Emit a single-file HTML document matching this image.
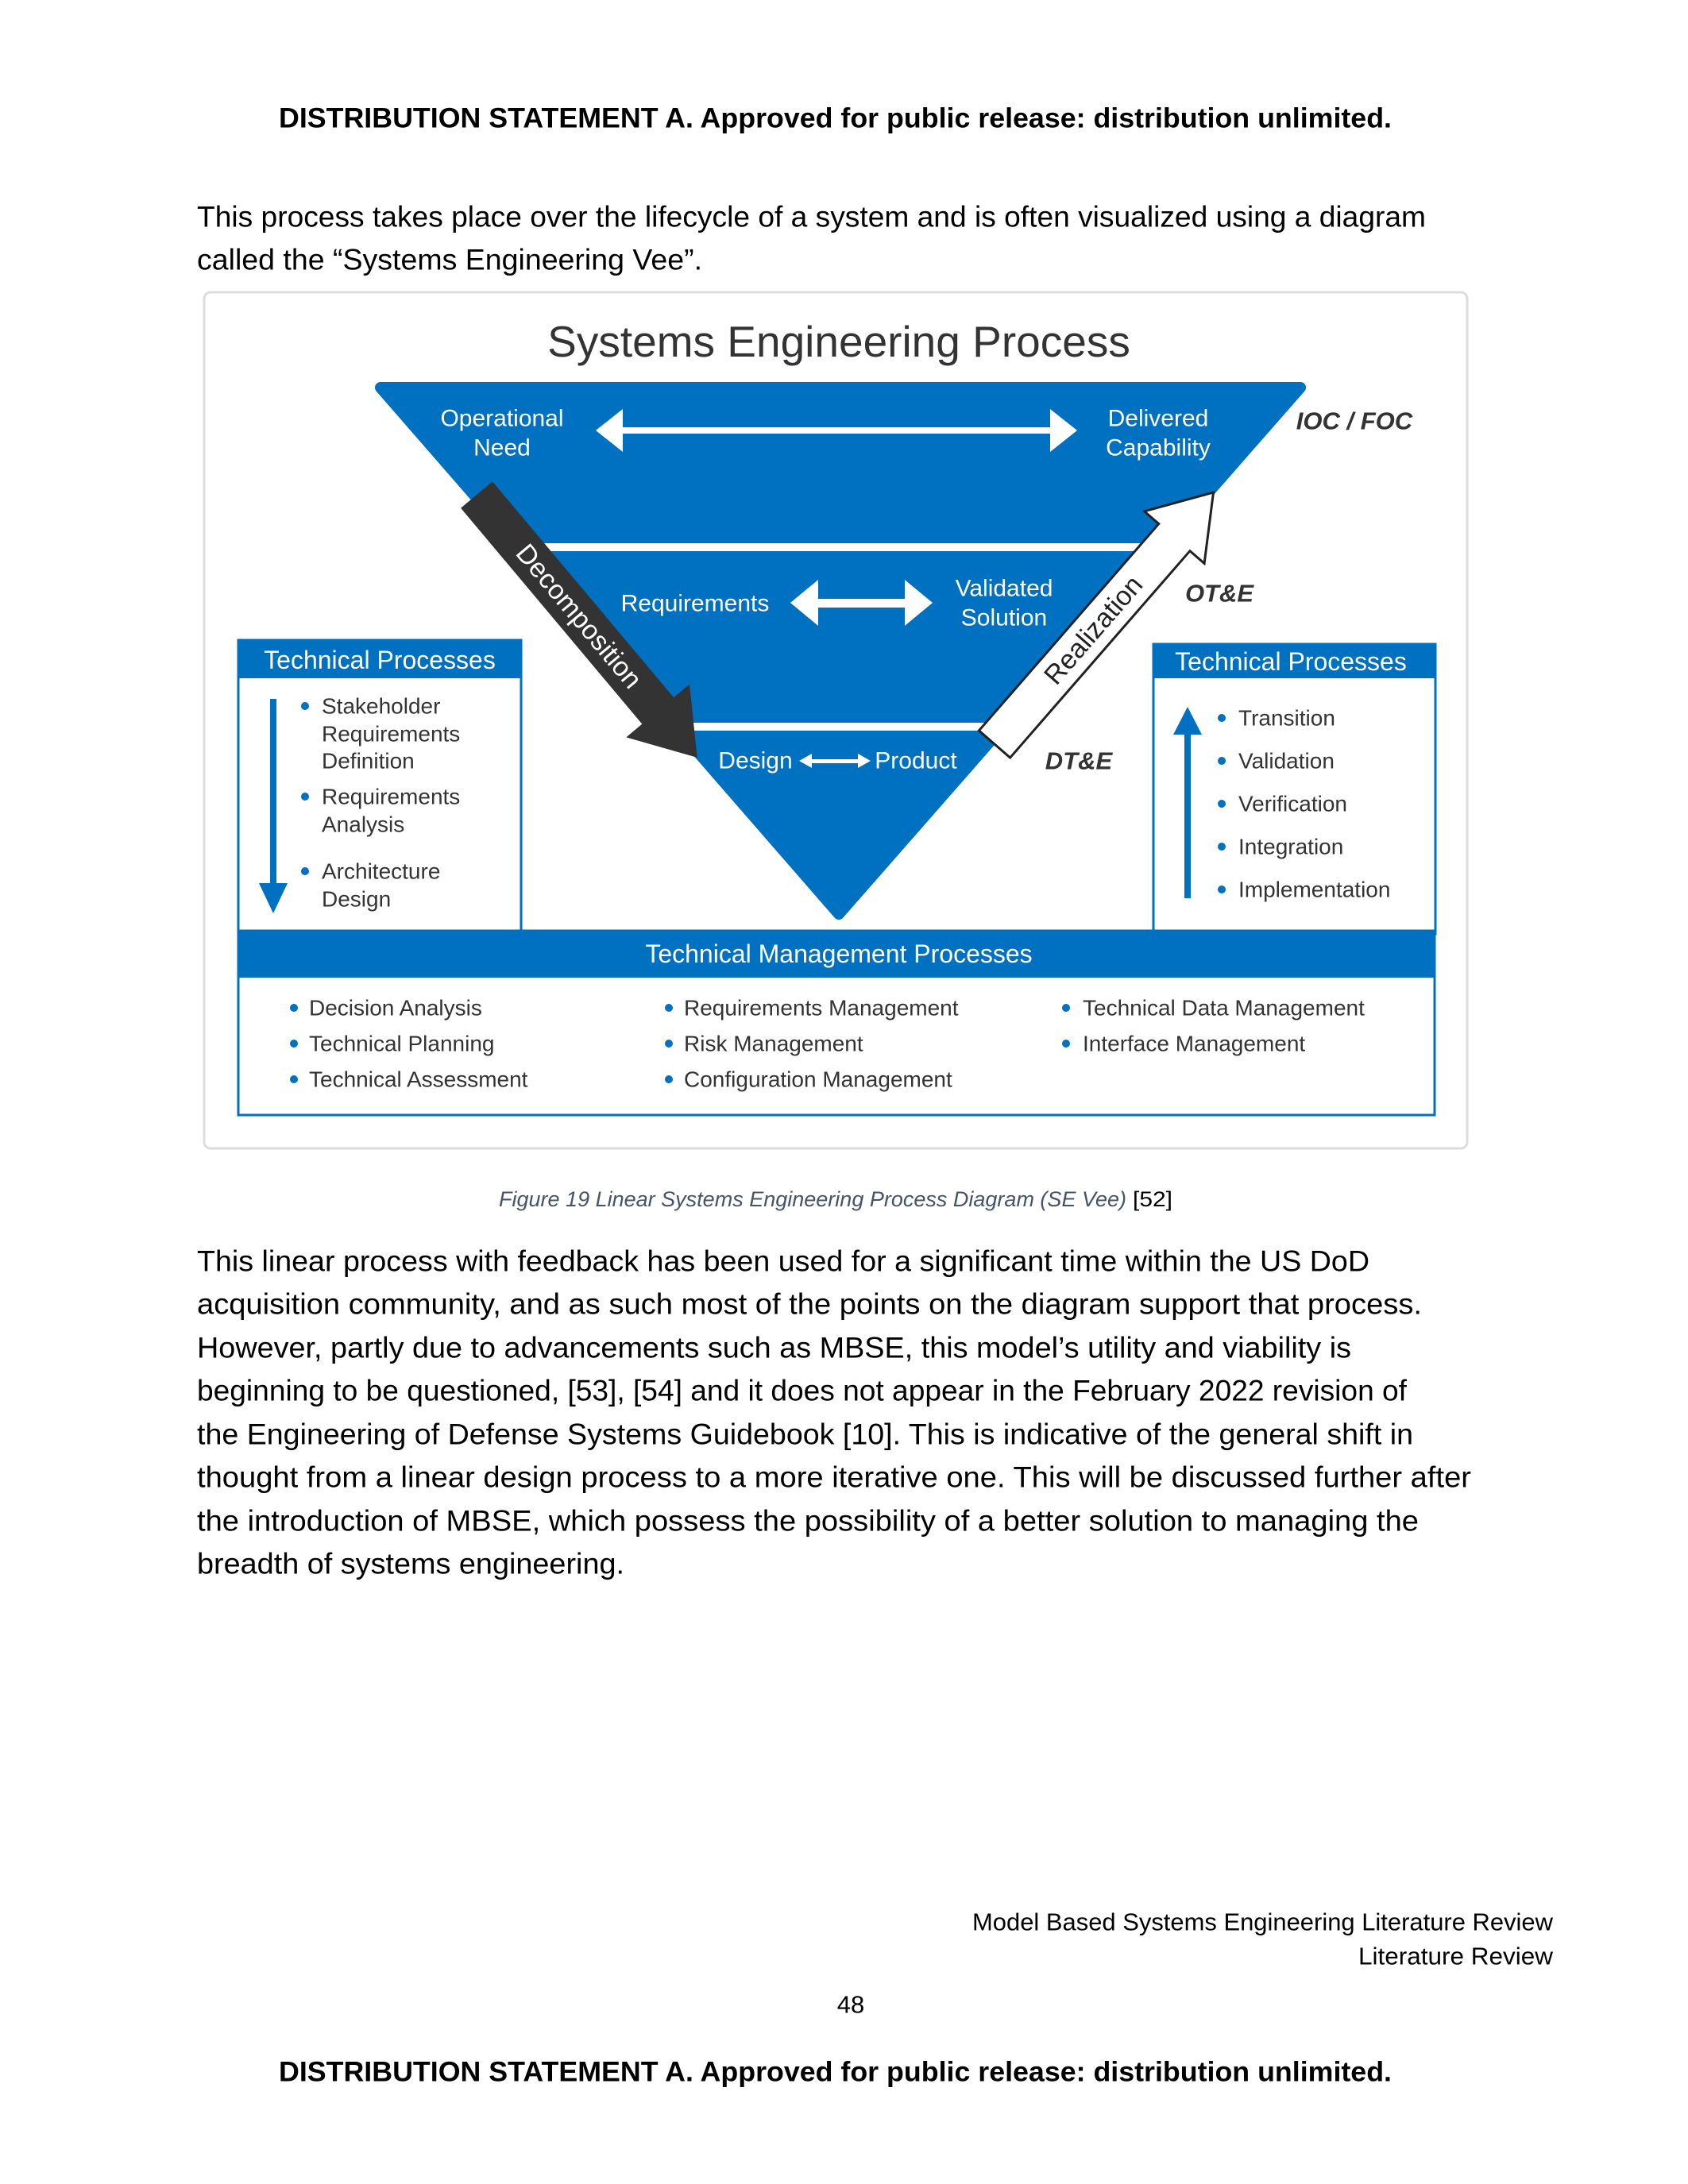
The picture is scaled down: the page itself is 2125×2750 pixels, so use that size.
<!DOCTYPE html>
<html><head><meta charset="utf-8"><style>
html,body{margin:0;padding:0;background:#fff;}
svg{display:block;}
.b{font-family:"Liberation Sans",sans-serif;}
</style></head><body>
<svg width="2125" height="2750" viewBox="0 0 2125 2750" xmlns="http://www.w3.org/2000/svg" font-family="Liberation Sans, sans-serif" dominant-baseline="central">
<rect width="2125" height="2750" fill="#fff"/>
<!-- header -->
<text x="351" y="149" font-size="35" font-weight="bold" textLength="1401" lengthAdjust="spacingAndGlyphs">DISTRIBUTION STATEMENT A. Approved for public release: distribution unlimited.</text>
<g font-size="37" fill="#000">
<text x="248" y="273" textLength="1547" lengthAdjust="spacingAndGlyphs">This process takes place over the lifecycle of a system and is often visualized using a diagram</text>
<text x="248" y="327" textLength="636" lengthAdjust="spacingAndGlyphs">called the “Systems Engineering Vee”.</text>
</g>
<!-- figure frame -->
<rect x="257" y="368" width="1590" height="1078" rx="8" fill="#fff" stroke="#dcdcdc" stroke-width="3"/>
<text x="1056" y="430" font-size="55" fill="#333" text-anchor="middle">Systems Engineering Process</text>
<!-- triangle -->
<polygon points="479,488 1637,488 1056,1151" fill="#0070C0" stroke="#0070C0" stroke-width="14" stroke-linejoin="round"/>
<rect x="650" y="684" width="816" height="10" fill="#fff"/>
<rect x="846" y="910" width="424" height="10" fill="#fff"/>
<!-- band 1 -->
<g fill="#fff" font-size="30" text-anchor="middle">
<text x="632" y="527">Operational</text><text x="632" y="564">Need</text>
<text x="1458" y="527">Delivered</text><text x="1458" y="564">Capability</text>
<text x="875" y="760">Requirements</text>
<text x="1264" y="741">Validated</text><text x="1264" y="778">Solution</text>
<text x="951" y="958">Design</text>
<text x="1153" y="958">Product</text>
</g>
<g fill="#fff">
<rect x="780" y="538" width="544" height="8"/>
<polygon points="750,542 784,515 784,569"/>
<polygon points="1356,542 1322,515 1322,569"/>
<rect x="1020" y="754" width="130" height="11"/>
<polygon points="995,759 1030,730 1030,788"/>
<polygon points="1174,759 1139,730 1139,788"/>
<rect x="1018" y="956" width="66" height="5"/>
<polygon points="1006,958 1022,949 1022,967"/>
<polygon points="1096,958 1080,949 1080,967"/>
</g>
<g font-size="31" font-weight="bold" font-style="italic" fill="#333" text-anchor="middle">
<text x="1705" y="530">IOC / FOC</text>
<text x="1535" y="747">OT&amp;E</text>
<text x="1358" y="958">DT&amp;E</text>
</g>
<!-- decomposition arrow -->
<g transform="translate(600,623) rotate(50)">
<polygon points="0,-26 355,-26 355,-52 432,0 355,52 355,26 0,26" fill="#333"/>
<text x="200" y="0" font-size="34" fill="#fff" text-anchor="middle">Decomposition</text>
</g>
<!-- realization arrow -->
<g transform="translate(1252,937) rotate(-49)">
<polygon points="0,-26 345,-26 345,-50 420,0 345,50 345,26 0,26" fill="#fff" stroke="#222" stroke-width="3"/>
<text x="190" y="0" font-size="34" fill="#222" text-anchor="middle">Realization</text>
</g>
<!-- left box -->
<rect x="300" y="806" width="356" height="370" fill="#fff" stroke="#0070C0" stroke-width="3"/>
<rect x="299" y="806" width="358" height="48" fill="#0070C0"/>
<text x="478" y="831" font-size="32" fill="#fff" text-anchor="middle">Technical Processes</text>
<rect x="340" y="880" width="8" height="235" fill="#0070C0"/>
<polygon points="326,1112 362,1112 344,1150" fill="#0070C0"/>
<g font-size="28" fill="#333">
<text x="405" y="889">Stakeholder</text><text x="405" y="924">Requirements</text><text x="405" y="958">Definition</text>
<text x="405" y="1003">Requirements</text><text x="405" y="1038">Analysis</text>
<text x="405" y="1097">Architecture</text><text x="405" y="1132">Design</text>
</g>
<g fill="#0070C0"><circle cx="384" cy="889" r="5"/><circle cx="384" cy="1003" r="5"/><circle cx="384" cy="1097" r="5"/></g>
<!-- right box -->
<rect x="1452" y="811" width="355" height="365" fill="#fff" stroke="#0070C0" stroke-width="3"/>
<rect x="1451" y="811" width="357" height="43" fill="#0070C0"/>
<text x="1625" y="833" font-size="32" fill="#fff" text-anchor="middle">Technical Processes</text>
<rect x="1491" y="920" width="8" height="211" fill="#0070C0"/>
<polygon points="1477,925 1513,925 1495,890" fill="#0070C0"/>
<g font-size="28" fill="#333">
<text x="1559" y="904">Transition</text><text x="1559" y="958">Validation</text><text x="1559" y="1012">Verification</text><text x="1559" y="1066">Integration</text><text x="1559" y="1120">Implementation</text>
</g>
<g fill="#0070C0"><circle cx="1538" cy="904" r="5"/><circle cx="1538" cy="958" r="5"/><circle cx="1538" cy="1012" r="5"/><circle cx="1538" cy="1066" r="5"/><circle cx="1538" cy="1120" r="5"/></g>
<!-- management -->
<rect x="300" y="1172" width="1506" height="232" fill="#fff" stroke="#0070C0" stroke-width="3"/>
<rect x="299" y="1172" width="1508" height="59" fill="#0070C0"/>
<text x="1056" y="1201" font-size="32" fill="#fff" text-anchor="middle">Technical Management Processes</text>
<g font-size="28" fill="#333">
<text x="389" y="1269">Decision Analysis</text><text x="389" y="1314">Technical Planning</text><text x="389" y="1359">Technical Assessment</text>
<text x="861" y="1269">Requirements Management</text><text x="861" y="1314">Risk Management</text><text x="861" y="1359">Configuration Management</text>
<text x="1363" y="1269">Technical Data Management</text><text x="1363" y="1314">Interface Management</text>
</g>
<g fill="#0070C0">
<circle cx="370" cy="1269" r="5"/><circle cx="370" cy="1314" r="5"/><circle cx="370" cy="1359" r="5"/>
<circle cx="842" cy="1269" r="5"/><circle cx="842" cy="1314" r="5"/><circle cx="842" cy="1359" r="5"/>
<circle cx="1342" cy="1269" r="5"/><circle cx="1342" cy="1314" r="5"/>
</g>
<!-- caption -->
<text x="628" y="1510" font-size="27" font-style="italic" fill="#44546A" textLength="790" lengthAdjust="spacingAndGlyphs">Figure 19 Linear Systems Engineering Process Diagram (SE Vee)</text>
<text x="1426" y="1510" font-size="27" fill="#000" textLength="50" lengthAdjust="spacingAndGlyphs">[52]</text>
<!-- paragraph -->
<g font-size="37" fill="#000">
<text x="248" y="1588" textLength="1476" lengthAdjust="spacingAndGlyphs">This linear process with feedback has been used for a significant time within the US DoD</text>
<text x="248" y="1642" textLength="1542" lengthAdjust="spacingAndGlyphs">acquisition community, and as such most of the points on the diagram support that process.</text>
<text x="248" y="1697" textLength="1453" lengthAdjust="spacingAndGlyphs">However, partly due to advancements such as MBSE, this model’s utility and viability is</text>
<text x="248" y="1751" textLength="1523" lengthAdjust="spacingAndGlyphs">beginning to be questioned, [53], [54] and it does not appear in the February 2022 revision of</text>
<text x="248" y="1806" textLength="1531" lengthAdjust="spacingAndGlyphs">the Engineering of Defense Systems Guidebook [10]. This is indicative of the general shift in</text>
<text x="248" y="1860" textLength="1604" lengthAdjust="spacingAndGlyphs">thought from a linear design process to a more iterative one. This will be discussed further after</text>
<text x="248" y="1915" textLength="1538" lengthAdjust="spacingAndGlyphs">the introduction of MBSE, which possess the possibility of a better solution to managing the</text>
<text x="248" y="1969" textLength="538" lengthAdjust="spacingAndGlyphs">breadth of systems engineering.</text>
</g>
<!-- footer -->
<g font-size="31" fill="#000">
<text x="1224" y="2420" textLength="731" lengthAdjust="spacingAndGlyphs">Model Based Systems Engineering Literature Review</text>
<text x="1710" y="2463" textLength="245" lengthAdjust="spacingAndGlyphs">Literature Review</text>
<text x="1071" y="2524" text-anchor="middle">48</text>
</g>
<text x="351" y="2609" font-size="35" font-weight="bold" textLength="1401" lengthAdjust="spacingAndGlyphs">DISTRIBUTION STATEMENT A. Approved for public release: distribution unlimited.</text>
</svg>
</body></html>
